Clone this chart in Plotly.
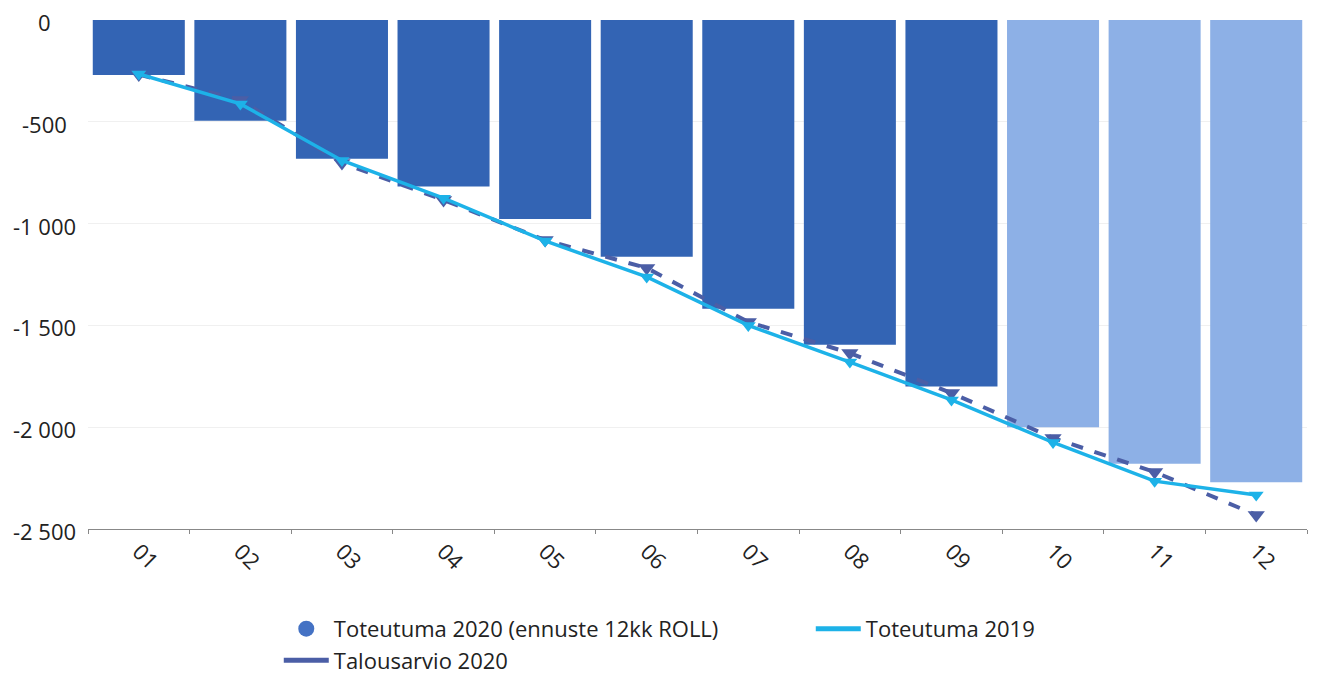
import plotly.graph_objects as go

months = ["01", "02", "03", "04", "05", "06", "07", "08", "09", "10", "11", "12"]
toteutuma_2020 = [-270, -495, -682, -818, -977, -1163, -1418, -1595, -1800, -2000, -2180, -2270]
is_forecast = [False] * 9 + [True] * 3
talousarvio_2020 = [-268, -393, -702, -884, -1081, -1218, -1483, -1636, -1832, -2053, -2220, -2431]
toteutuma_2019 = [-265, -412, -690, -875, -1085, -1262, -1500, -1680, -1866, -2075, -2265, -2333]
y_ticks = [0, -500, -1000, -1500, -2000, -2500]
y_tick_text = ["0", "-500", "-1 000", "-1 500", "-2 000", "-2 500"]

DARK = "#3364B4"
LIGHT = "#8DB0E6"
CYAN = "#1DB2E8"
SLATE = "#4B5EA6"
FONT = "Open Sans"

fig = go.Figure()
fig.add_trace(go.Bar(
    x=months, y=toteutuma_2020,
    marker=dict(color=[LIGHT if f else DARK for f in is_forecast], line=dict(width=0)),
    showlegend=False, name="Toteutuma 2020 (ennuste 12kk ROLL)",
))
fig.add_trace(go.Scatter(
    x=months, y=talousarvio_2020, mode="lines+markers",
    line=dict(color=SLATE, width=4, dash="dash"),
    marker=dict(symbol="triangle-down", size=15, color=SLATE),
    showlegend=False, name="Talousarvio 2020",
))
fig.add_trace(go.Scatter(
    x=months, y=toteutuma_2019, mode="lines+markers",
    line=dict(color=CYAN, width=3.5),
    marker=dict(symbol="triangle-down", size=13, color=CYAN),
    showlegend=False, name="Toteutuma 2019",
))
# legend entries
fig.add_trace(go.Scatter(x=[None], y=[None], mode="markers",
                         marker=dict(symbol="circle", size=20, color="#4472C4"),
                         name="Toteutuma 2020 (ennuste 12kk ROLL)"))
fig.add_trace(go.Scatter(x=[None], y=[None], mode="lines",
                         line=dict(color=CYAN, width=5), name="Toteutuma 2019"))
fig.add_trace(go.Scatter(x=[None], y=[None], mode="lines",
                         line=dict(color=SLATE, width=5), name="Talousarvio 2020"))

for v, t in zip(y_ticks, y_tick_text):
    fig.add_annotation(x=-0.036, xref="paper", y=v, yref="y", text=t, showarrow=False,
                       xanchor="center", yanchor="middle", yshift=-2,
                       font=dict(family=FONT, size=22, color="#222222"))

fig.update_layout(
    width=1302, height=667,
    margin=dict(l=80, r=3, t=12, b=146, autoexpand=False),
    paper_bgcolor="white", plot_bgcolor="white",
    bargap=0.094,
    font=dict(family=FONT, size=20, color="#222222"),
    legend=dict(orientation="h", x=0.1565, xanchor="left", y=-0.155, yanchor="top",
                entrywidth=472, itemwidth=45, font=dict(family=FONT, size=22, color="#222222"),
                traceorder="normal", itemsizing="trace", tracegroupgap=0),
    xaxis=dict(type="category", range=[-0.5, 11.5], tickangle=45, tickson="boundaries",
               ticks="outside", ticklen=4, tickcolor="#888888", showline=True,
               linecolor="#888888", linewidth=1, showgrid=False, automargin=False,
               tickfont=dict(family=FONT, size=22, color="#222222")),
    yaxis=dict(range=[-2500, 0], tickvals=y_ticks, showticklabels=False, showgrid=True,
               gridcolor="#f0f0f0", gridwidth=1, zeroline=False, ticks="", automargin=False),
)

fig.write_html("out.html")
